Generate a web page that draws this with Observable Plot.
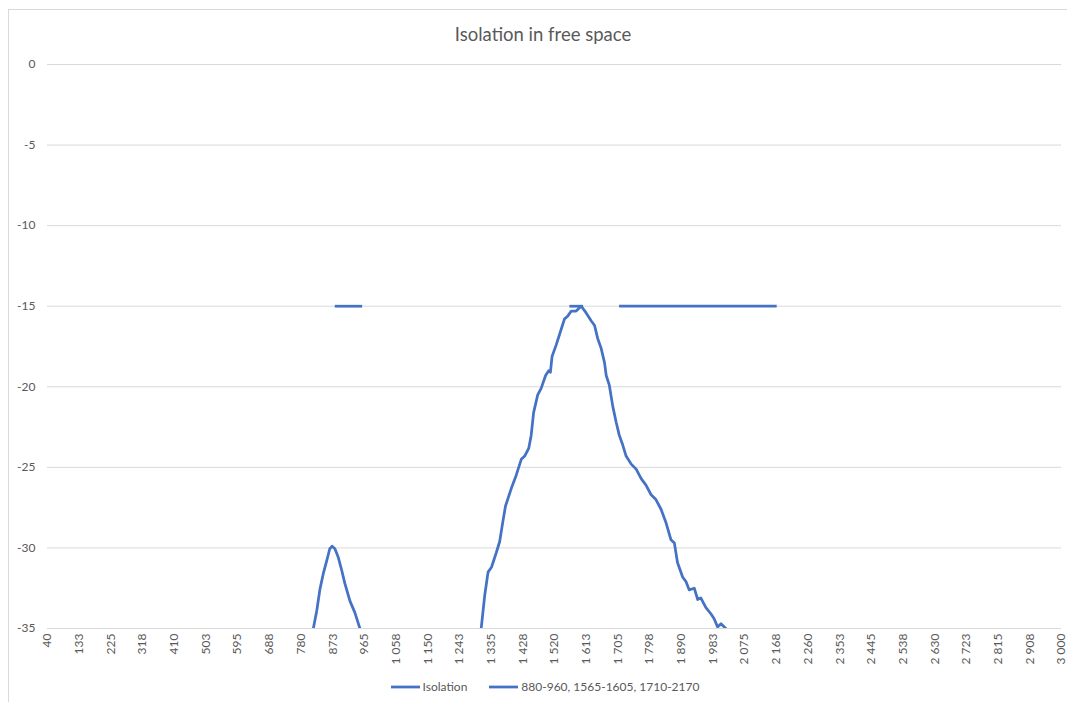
<!DOCTYPE html>
<html>
<head>
<meta charset="utf-8">
<script src="https://cdn.jsdelivr.net/npm/d3@7"></script>
<script src="https://cdn.jsdelivr.net/npm/@observablehq/plot@0.6"></script>
<style>
  html, body { margin: 0; padding: 0; background: #fff; }
  #wrap { position: relative; width: 1067px; height: 702px; overflow: hidden; font-family: Lato, "Open Sans", sans-serif; color: #595959; }
  #frame { position: absolute; left: 8px; top: 9px; width: 1100px; height: 720px; border-left: 1px solid #d9d9d9; border-top: 1px solid #d9d9d9; }
  #title { position: absolute; left: 0; top: 23px; width: 1086px; text-align: center; font-size: 18.5px; line-height: 22px; }
  #chart { position: absolute; left: 0; top: 44px; }
  #legend { position: absolute; left: 0; top: 679px; width: 1090px; display: flex; justify-content: center; align-items: center; font-size: 12px; line-height: 16px; }
  .item { display: flex; align-items: center; margin: 0 11px; }
  .item svg { margin-right: 3px; }
</style>
</head>
<body>
<div id="wrap">
  <div id="frame"></div>
  <div id="title">Isolation in free space</div>
  <div id="chart"></div>
  <div id="legend"></div>
</div>
<script>
// ---- data ----
const seriesNames = ["Isolation", "880-960, 1565-1605, 1710-2170"];

// Isolation curve, lobe around 870 MHz (visible part above -35 dB)
const lobeAFreq = [816, 826, 835, 845, 855, 864, 871, 879, 889, 899, 908, 923, 937, 952];
const lobeADb   = [-35, -33.9, -32.6, -31.6, -30.8, -30.05, -29.9, -30.05, -30.6, -31.4, -32.2, -33.3, -34.0, -35];

// Isolation curve, lobe around 1600 MHz (visible part above -35 dB)
const lobeBFreq = [1306, 1316, 1326, 1336, 1350, 1360, 1369, 1377, 1394, 1408, 1423, 1433, 1445, 1452, 1459,
  1471, 1481, 1494, 1503, 1508, 1513, 1525, 1540, 1549, 1559, 1569, 1583, 1588, 1593, 1598,
  1612, 1627, 1637, 1646, 1656, 1666, 1671, 1680, 1690, 1700, 1709, 1719, 1729, 1744, 1758,
  1773, 1787, 1802, 1816, 1831, 1845, 1860, 1870, 1879, 1894, 1904, 1913, 1928, 1938, 1947,
  1962, 1977, 1986, 1996, 2006, 2020];
const lobeBDb = [-35, -33.0, -31.5, -31.2, -30.3, -29.6, -28.4, -27.4, -26.3, -25.5, -24.5, -24.3, -23.8, -23.0, -21.6,
  -20.5, -20.1, -19.3, -19.0, -19.1, -18.1, -17.4, -16.4, -15.8, -15.6, -15.3, -15.3, -15.2, -15.1, -15.0,
  -15.4, -15.9, -16.2, -17.0, -17.6, -18.5, -19.3, -19.9, -21.2, -22.2, -23.0, -23.6, -24.3, -24.8, -25.1,
  -25.7, -26.1, -26.7, -27.0, -27.6, -28.4, -29.5, -29.7, -30.9, -31.8, -32.1, -32.6, -32.5, -33.2, -33.1,
  -33.7, -34.1, -34.4, -34.9, -34.7, -35];

// Spec limit segments at -15 dB
const specLo = [880, 1565, 1710];
const specHi = [960, 1605, 2170];
const specDb = [-15, -15, -15];

// Axis ticks
const yTicks = [0, -5, -10, -15, -20, -25, -30, -35];
const xTicks = [40, 132.5, 225, 317.5, 410, 502.5, 595, 687.5, 780, 872.5, 965, 1057.5, 1150, 1242.5, 1335, 1427.5,
  1520, 1612.5, 1705, 1797.5, 1890, 1982.5, 2075, 2167.5, 2260, 2352.5, 2445, 2537.5, 2630, 2722.5, 2815, 2907.5, 3000];
const xTickLabels = ["40", "133", "225", "318", "410", "503", "595", "688", "780", "873", "965", "1 058", "1 150", "1 243",
  "1 335", "1 428", "1 520", "1 613", "1 705", "1 798", "1 890", "1 983", "2 075", "2 168", "2 260", "2 353", "2 445",
  "2 538", "2 630", "2 723", "2 815", "2 908", "3 000"];

// ---- build tables ----
const iso = [
  ...lobeAFreq.map((f, i) => ({f, db: lobeADb[i], lobe: "A"})),
  ...lobeBFreq.map((f, i) => ({f, db: lobeBDb[i], lobe: "B"}))
];
const spec = specLo.map((lo, i) => ({lo, hi: specHi[i], db: specDb[i]}));
const labelOf = new Map(xTicks.map((v, i) => [v, xTickLabels[i]]));

const blue = "#4472c4";
const grid = "#d9d9d9";

const chart = Plot.plot({
  width: 1067,
  height: 634,
  marginLeft: 47,
  marginRight: 6,
  marginTop: 20,
  marginBottom: 50,
  style: {fontFamily: "Lato, 'Open Sans', sans-serif", fontSize: "12px", color: "#595959", background: "transparent", overflow: "visible"},
  x: {type: "linear", domain: [40, 3000]},
  y: {type: "linear", domain: [-35, 0]},
  marks: [
    Plot.gridY(yTicks, {stroke: grid, strokeOpacity: 1, strokeWidth: 1}),
    Plot.axisY(yTicks, {tickSize: 0, tickPadding: 12, label: null, tickFormat: d => String(d), fill: "#595959"}),
    Plot.axisX(xTicks, {tickSize: 0, tickPadding: 5, tickRotate: -90, label: null, tickFormat: d => labelOf.get(d), fill: "#595959"}),
    Plot.line(iso, {x: "f", y: "db", z: "lobe", stroke: blue, strokeWidth: 2.75, clip: true}),
    Plot.ruleY(spec, {x1: "lo", x2: "hi", y: "db", stroke: blue, strokeWidth: 2.75})
  ]
});
document.getElementById("chart").appendChild(chart);

// ---- legend ----
const legend = document.getElementById("legend");
seriesNames.forEach(name => {
  const item = document.createElement("div");
  item.className = "item";
  item.innerHTML = `<svg width="29" height="6"><line x1="0" x2="29" y1="3" y2="3" stroke="${blue}" stroke-width="2.75"/></svg><span>${name}</span>`;
  legend.appendChild(item);
});
</script>
</body>
</html>
